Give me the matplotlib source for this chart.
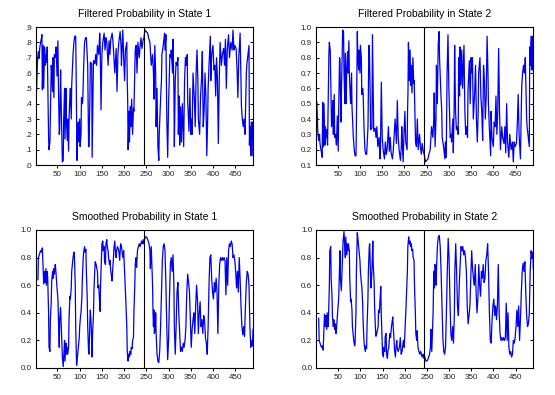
import matplotlib as mpl
mpl.use('Agg')
import matplotlib.pyplot as plt
import matplotlib.ticker as mtick
import numpy as np

filt1_obs = [3, 5, 7, 9, 10, 12, 14, 15, 16, 18, 19, 21, 22, 24, 25, 27, 28, 30, 31, 33,
             34, 36, 37, 39, 40, 42, 43, 45, 47, 49, 51, 52, 54, 55, 57, 58, 60, 61, 63, 64,
             66, 67, 69, 70, 72, 73, 75, 76, 78, 79, 81, 82, 85, 87, 89, 91, 92, 94, 95, 97,
             98, 100, 101, 103, 104, 106, 107, 109, 111, 113, 115, 117, 118, 120, 121, 123, 124, 127, 128, 130,
             131, 134, 136, 138, 140, 143, 145, 146, 148, 150, 152, 155, 157, 159, 161, 164, 166, 168, 170, 173,
             175, 177, 179, 182, 184, 186, 188, 191, 193, 194, 197, 199, 201, 203, 206, 207, 208, 209, 211, 212,
             214, 215, 217, 219, 221, 222, 225, 227, 229, 231, 234, 236, 238, 240, 243,
             244, 247, 250, 253, 255, 258, 260, 261, 264, 266, 267, 269, 271, 272, 274, 276, 278, 279, 282, 284,
             285, 288, 291, 292, 294, 295, 296, 298, 300, 303, 305, 306, 309, 310, 312, 313, 315, 317, 319, 321,
             322, 324, 325, 327, 329, 331, 334, 336, 338, 340, 342, 343, 346, 348, 350, 352, 353, 355, 358, 360,
             362, 364, 366, 367, 370, 372, 374, 376, 378, 380, 382, 384, 386, 388, 389, 391, 394, 395, 397, 400,
             402, 404, 406, 408, 410, 412, 414, 416, 419, 421, 424, 426, 428, 430, 432, 435, 437, 440, 443, 445,
             447, 449, 452, 454, 456, 458, 461, 462, 464, 466, 468, 470, 472, 475, 476, 478, 481, 482, 483, 485,
             486, 488, 489]
filt1_val = [0.49, 0.68, 0.74, 0.70, 0.76, 0.80, 0.83, 0.85, 0.49, 0.78, 0.50, 0.77, 0.65, 0.72, 0.67, 0.77, 0.57, 0.18, 0.10, 0.15,
             0.33, 0.65, 0.60, 0.48, 0.70, 0.44, 0.72, 0.70, 0.77, 0.58, 0.81, 0.55, 0.20, 0.23, 0.62, 0.45, 0.16, 0.02, 0.03, 0.30,
             0.50, 0.17, 0.50, 0.30, 0.16, 0.30, 0.09, 0.30, 0.45, 0.50, 0.30, 0.52, 0.72, 0.80, 0.84, 0.84, 0.60, 0.03, 0.20, 0.28,
             0.15, 0.30, 0.12, 0.20, 0.44, 0.40, 0.43, 0.65, 0.80, 0.83, 0.83, 0.70, 0.65, 0.12, 0.12, 0.45, 0.67, 0.66, 0.05, 0.45,
             0.68, 0.66, 0.72, 0.65, 0.78, 0.72, 0.86, 0.80, 0.36, 0.72, 0.80, 0.86, 0.75, 0.83, 0.80, 0.65, 0.81, 0.72, 0.82, 0.86,
             0.80, 0.70, 0.60, 0.76, 0.48, 0.72, 0.80, 0.87, 0.78, 0.65, 0.88, 0.70, 0.55, 0.75, 0.80, 0.55, 0.42, 0.10, 0.35, 0.15,
             0.38, 0.25, 0.43, 0.20, 0.37, 0.35, 0.75, 0.78, 0.60, 0.80, 0.70, 0.78, 0.83, 0.76, 0.82,
             0.82, 0.88, 0.87, 0.86, 0.83, 0.80, 0.70, 0.65, 0.72, 0.60, 0.43, 0.78, 0.60, 0.25, 0.50, 0.12, 0.03, 0.20, 0.43, 0.55,
             0.72, 0.78, 0.86, 0.75, 0.85, 0.55, 0.30, 0.05, 0.40, 0.72, 0.70, 0.75, 0.60, 0.82, 0.50, 0.12, 0.55, 0.67, 0.65, 0.70,
             0.20, 0.45, 0.13, 0.38, 0.15, 0.40, 0.12, 0.55, 0.70, 0.65, 0.72, 0.42, 0.22, 0.50, 0.20, 0.30, 0.20, 0.60, 0.43, 0.25,
             0.60, 0.75, 0.55, 0.30, 0.20, 0.45, 0.55, 0.74, 0.25, 0.35, 0.60, 0.45, 0.06, 0.30, 0.50, 0.65, 0.84, 0.55, 0.72, 0.78,
             0.62, 0.65, 0.45, 0.70, 0.55, 0.14, 0.55, 0.80, 0.65, 0.72, 0.76, 0.65, 0.82, 0.50, 0.75, 0.85, 0.70, 0.80, 0.75, 0.88,
             0.75, 0.78, 0.76, 0.63, 0.44, 0.70, 0.86, 0.70, 0.38, 0.30, 0.25, 0.30, 0.20, 0.60, 0.65, 0.70, 0.78, 0.13, 0.25, 0.06,
             0.28, 0.06, 0.28]

smooth1_obs = [6, 7, 9, 12, 14, 16, 18, 19, 21, 22, 24, 25, 27, 28, 30, 31, 33, 34, 36, 37,
               39, 40, 42, 43, 45, 46, 48, 49, 51, 52, 54, 55, 57, 58, 60, 61, 63, 64, 66, 67,
               69, 70, 72, 73, 75, 76, 78, 79, 81, 82, 85, 87, 88, 90, 91, 93, 94, 96, 97, 99,
               100, 102, 103, 105, 106, 108, 109, 111, 112, 114, 115, 117, 118, 120, 121, 123, 124, 126, 128, 129,
               131, 132, 134, 135, 137, 138, 140, 141, 143, 144, 146, 147, 149, 150, 152, 153, 155, 156, 158, 159,
               161, 162, 164, 165, 167, 168, 170, 171, 173, 174, 176, 177, 179, 180, 182, 183, 185, 188, 190, 192,
               194, 197, 199, 201, 203, 206, 207, 209, 210, 212, 213, 215, 216, 218, 219, 221, 222, 224, 225, 227,
               228, 230, 232, 234, 236, 239, 241, 243,
               244, 246, 248, 250, 252, 254, 256, 258, 259, 261, 262, 264, 265, 266, 267, 268, 270, 271, 272, 274,
               276, 278, 280, 282, 284, 286, 288, 290, 292, 294, 296, 298, 300, 302, 304, 306, 308, 310, 312, 313,
               315, 317, 319, 321, 323, 325, 327, 329, 331, 333, 335, 337, 339, 341, 343, 345, 347, 349, 351, 353,
               355, 357, 359, 361, 363, 365, 367, 369, 371, 373, 375, 377, 379, 381, 383, 385, 387, 389, 391, 393,
               395, 397, 399, 401, 403, 405, 407, 409, 411, 413, 415, 417, 419, 421, 423, 425, 427, 429, 431, 433,
               435, 437, 439, 441, 443, 445, 447, 449, 451, 453, 455, 457, 459, 461, 463, 465, 467, 469, 471, 473,
               475, 477, 479, 481, 483, 485, 487, 489, 490]
smooth1_val = [0.64, 0.80, 0.82, 0.85, 0.84, 0.87, 0.70, 0.61, 0.70, 0.62, 0.72, 0.60, 0.70, 0.65, 0.40, 0.15, 0.12, 0.35, 0.48, 0.63,
               0.70, 0.65, 0.72, 0.68, 0.75, 0.72, 0.62, 0.58, 0.50, 0.38, 0.15, 0.35, 0.44, 0.35, 0.15, 0.08, 0.01, 0.08, 0.20, 0.05,
               0.18, 0.10, 0.15, 0.10, 0.15, 0.35, 0.52, 0.50, 0.58, 0.70, 0.80, 0.84, 0.82, 0.60, 0.30, 0.02, 0.05, 0.12, 0.15, 0.22,
               0.30, 0.38, 0.40, 0.52, 0.65, 0.80, 0.84, 0.88, 0.84, 0.86, 0.70, 0.50, 0.30, 0.12, 0.10, 0.35, 0.42, 0.30, 0.08, 0.25,
               0.38, 0.55, 0.72, 0.77, 0.75, 0.73, 0.70, 0.58, 0.60, 0.52, 0.41, 0.60, 0.80, 0.90, 0.92, 0.85, 0.88, 0.77, 0.75, 0.90,
               0.93, 0.88, 0.85, 0.80, 0.75, 0.78, 0.70, 0.68, 0.63, 0.70, 0.80, 0.87, 0.92, 0.86, 0.80, 0.85, 0.88, 0.85, 0.78, 0.90,
               0.88, 0.80, 0.85, 0.70, 0.55, 0.30, 0.12, 0.05, 0.10, 0.08, 0.12, 0.10, 0.15, 0.14, 0.20, 0.22, 0.40, 0.60, 0.75, 0.80,
               0.73, 0.85, 0.88, 0.90, 0.88, 0.92, 0.90, 0.93,
               0.90, 0.93, 0.95, 0.95, 0.94, 0.92, 0.90, 0.85, 0.72, 0.88, 0.78, 0.60, 0.40, 0.30, 0.42, 0.25, 0.28, 0.40, 0.25, 0.10,
               0.05, 0.04, 0.12, 0.30, 0.55, 0.78, 0.88, 0.90, 0.85, 0.60, 0.30, 0.06, 0.20, 0.50, 0.75, 0.80, 0.70, 0.82, 0.60, 0.30,
               0.10, 0.30, 0.55, 0.62, 0.40, 0.25, 0.12, 0.15, 0.12, 0.18, 0.15, 0.20, 0.30, 0.55, 0.68, 0.62, 0.55, 0.35, 0.15, 0.28,
               0.35, 0.40, 0.25, 0.45, 0.60, 0.50, 0.25, 0.40, 0.48, 0.30, 0.35, 0.25, 0.38, 0.35, 0.22, 0.18, 0.10, 0.30, 0.60, 0.80,
               0.82, 0.65, 0.55, 0.50, 0.62, 0.55, 0.65, 0.55, 0.25, 0.60, 0.75, 0.80, 0.78, 0.80, 0.78, 0.80, 0.78, 0.53, 0.80, 0.60,
               0.85, 0.90, 0.88, 0.92, 0.90, 0.80, 0.82, 0.78, 0.70, 0.58, 0.70, 0.55, 0.80, 0.65, 0.45, 0.30, 0.24, 0.30, 0.23, 0.45,
               0.62, 0.70, 0.68, 0.60, 0.30, 0.15, 0.20, 0.16, 0.28]

break_obs = 244  # vertical reference line

# two-state model: state 2 probability is the complement of state 1
filt2_val = list(1 - np.array(filt1_val))
smooth2_val = list(1 - np.array(smooth1_val))

panels = [
    ("Filtered Probability in State 1", filt1_obs, filt1_val, (0.0, 0.9), 0.1, True),
    ("Filtered Probability in State 2", filt1_obs, filt2_val, (0.1, 1.0), 0.1, False),
    ("Smoothed Probability in State 1", smooth1_obs, smooth1_val, (0.0, 1.0), 0.2, False),
    ("Smoothed Probability in State 2", smooth1_obs, smooth2_val, (0.0, 1.0), 0.2, False),
]

W, H = 555.0, 395.0
boxes = [(35.7, 27, 253, 165), (316, 27, 533.3, 165),
         (35.7, 230, 253, 368), (316.5, 230, 533.3, 368)]

plt.rcParams['font.family'] = ['Liberation Sans', 'DejaVu Sans']

fig = plt.figure(figsize=(W / 100, H / 100), dpi=100)
fig.patch.set_facecolor('white')

for (title, xs, ys, ylim, step, short), (x0, y0, x1, y1) in zip(panels, boxes):
    ax = fig.add_axes([x0 / W, 1 - y1 / H, (x1 - x0) / W, (y1 - y0) / H])
    ax.plot(xs, ys, color='#0000f0', lw=0.9)
    ax.axvline(break_obs, color='black', lw=0.8)
    ax.set_xlim(1, 490)
    ax.set_ylim(*ylim)
    ax.set_xticks(range(50, 451, 50))
    ax.yaxis.set_major_locator(mtick.MultipleLocator(step))
    if short:
        ax.yaxis.set_major_formatter(mtick.FuncFormatter(lambda v, p: ("%.1f" % v).lstrip('0')))
    else:
        ax.yaxis.set_major_formatter(mtick.FormatStrFormatter('%.1f'))
    ax.tick_params(axis='x', direction='out', length=2.5, width=0.7, labelsize=5.8, pad=2,
                   labelcolor='#222222')
    ax.tick_params(axis='y', direction='in', length=2.5, width=0.7, labelsize=5.8, pad=3,
                   right=True, labelcolor='#222222')
    for sp in ax.spines.values():
        sp.set_linewidth(0.8)
    ax.set_title(title, fontsize=7.5, pad=7)

fig.savefig('out.png', dpi=100)
